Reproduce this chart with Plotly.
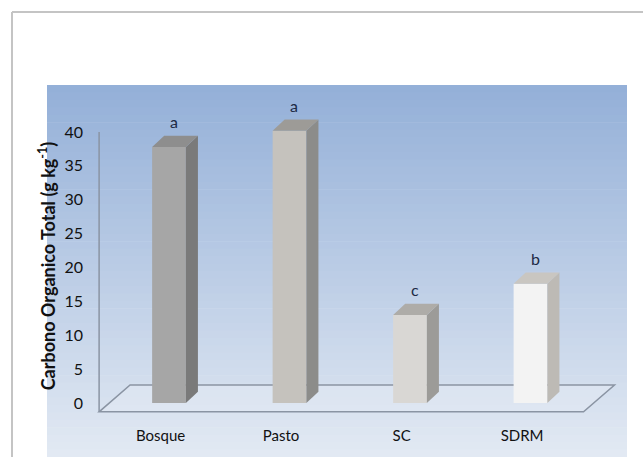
import plotly.graph_objects as go

categories = ["Bosque", "Pasto", "SC", "SDRM"]
values = [37.8, 40.2, 13.0, 17.6]
letters = ["a", "a", "c", "b"]
y_ticks = [0, 5, 10, 15, 20, 25, 30, 35, 40]

front_colors = ["#a6a6a6", "#c5c2bd", "#d9d7d4", "#f3f3f3"]
side_colors = ["#7a7a7a", "#8c8c8a", "#9c9b98", "#bdbab5"]
top_colors = ["#8e8e8e", "#9d9b97", "#aeaca8", "#c9c6c1"]

pos = list(range(len(categories)))
bw = 0.28      # front face width (x units)
dx = 0.10      # depth offset x
dy = 1.65      # depth offset y

fig = go.Figure()

# front faces
fig.add_trace(go.Bar(x=pos, y=values, width=bw,
                     marker=dict(color=front_colors, line=dict(width=0)),
                     showlegend=False))

# side and top faces
for p, v, sc, tc in zip(pos, values, side_colors, top_colors):
    r = p + bw / 2
    l = p - bw / 2
    fig.add_trace(go.Scatter(
        x=[r, r + dx, r + dx, r, r], y=[0, dy, v + dy, v, 0],
        mode="lines", fill="toself", fillcolor=sc, line=dict(width=0, color=sc),
        hoverinfo="skip", showlegend=False))
    fig.add_trace(go.Scatter(
        x=[l, r, r + dx, l + dx, l], y=[v, v, v + dy, v + dy, v],
        mode="lines", fill="toself", fillcolor=tc, line=dict(width=0, color=tc),
        hoverinfo="skip", showlegend=False))

# significance letters
for p, v, t in zip(pos, values, letters):
    fig.add_annotation(x=p + 0.04, y=v, text=t, showarrow=False, yshift=25,
                       font=dict(family="Lato", size=16, color="#1c2a44"))

# gradient background bands (paper coords)
L, T, W, H = 97, 112, 524, 308
B = T + H
def px(xp): return (xp - L) / W
def py(yp): return (B - yp) / H

top_c = (148, 176, 216)
bot_c = (226, 233, 243)
N = 50
y_top, y_bot = 85, 457
for i in range(N):
    t = i / (N - 1)
    c = tuple(int(round(top_c[k] + (bot_c[k] - top_c[k]) * t)) for k in range(3))
    ya = y_top + (y_bot - y_top) * i / N
    yb = y_top + (y_bot - y_top) * (i + 1) / N + 0.6
    fig.add_shape(type="rect", xref="paper", yref="paper",
                  x0=px(47), x1=px(627), y0=py(yb), y1=py(ya),
                  fillcolor="rgb(%d,%d,%d)" % c, line=dict(width=0), layer="below")

# floor parallelogram (data coords, under the bars)
fx0, fx1, fyf, fyb, fdx = -0.58, 3.44, -1.3, 2.66, 0.257
fig.add_shape(type="path", xref="x", yref="y",
              path="M %f,%f L %f,%f L %f,%f L %f,%f Z" % (
                  fx0, fyf, fx1, fyf, fx1 + fdx, fyb, fx0 + fdx, fyb),
              fillcolor="rgba(228,234,243,0.5)",
              line=dict(color="#8a94a3", width=1.5), layer="below")
# vertical axis line
fig.add_shape(type="line", xref="x", yref="y", x0=fx0, x1=fx0, y0=fyf, y1=y_ticks[-1],
              line=dict(color="#8a94a3", width=1.5), layer="below")

# outer frame
fig.add_shape(type="line", xref="paper", yref="paper", x0=px(12), x1=px(12),
              y0=py(470), y1=py(12), line=dict(color="#c4c4c4", width=2), layer="below")
fig.add_shape(type="line", xref="paper", yref="paper", x0=px(12), x1=px(660),
              y0=py(12), y1=py(12), line=dict(color="#c4c4c4", width=2), layer="below")

fig.update_layout(
    width=643, height=457,
    margin=dict(l=L, r=643 - L - W, t=T, b=457 - B),
    paper_bgcolor="white", plot_bgcolor="rgba(0,0,0,0)",
    showlegend=False,
    font=dict(family="Lato", color="#111111"),
    xaxis=dict(range=[-0.5975, 3.751], tickvals=[p - 0.07 for p in pos],
               ticktext=categories, showgrid=False, zeroline=False, showline=False,
               ticks="", ticklabelstandoff=5, tickfont=dict(size=15, color="#111111")),
    yaxis=dict(range=[-2.509, 42.95], tickvals=y_ticks, showgrid=False,
               zeroline=False, showline=False, ticks="", ticklabelstandoff=13,
               tickfont=dict(size=16, color="#111111"),
               title=dict(text="<b>Carbono Organico Total (g kg<sup>-1</sup>)</b>",
                          font=dict(size=18, color="#111111"), standoff=4)),
)

fig.write_html("out.html")
